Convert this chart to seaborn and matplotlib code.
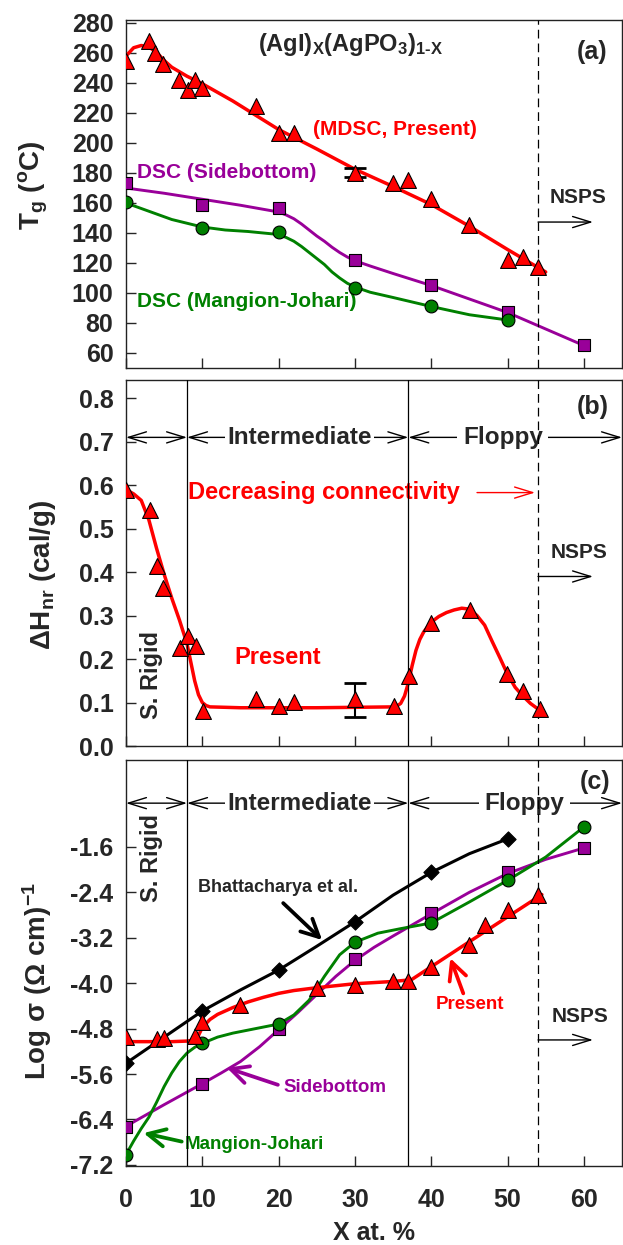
import matplotlib
matplotlib.use("Agg")
import matplotlib.pyplot as plt
import seaborn as sns

# ---------------- panel (a): Tg vs x ----------------
tg_mdsc_x = [0, 3, 3.8, 4.9, 7, 8.1, 9, 9.9, 17, 20, 22, 30, 35, 37, 40, 45, 50, 52, 54]
tg_mdsc_y = [255, 268, 260, 253, 242, 235.5, 242, 237, 225, 207, 207, 180, 173.5, 175, 162.5, 145, 122, 124, 117.5]
tg_mdsc_fit_x = [0, 1, 2, 3, 4, 5, 6, 8, 10, 14, 20, 25, 30, 35, 40, 45, 50, 55]
tg_mdsc_fit_y = [258, 263.5, 265, 264, 260.5, 255, 250.5, 244.5, 239.5, 228, 209, 196, 182.5, 171, 159, 144.5, 129, 114]
tg_err_x, tg_err_y, tg_err = [30], [180], [3]

tg_side_x = [0, 10, 20, 30, 40, 50, 60]
tg_side_y = [173, 158.6, 156.4, 122, 105, 87, 65]
tg_side_fit_x = [0, 5, 10, 15, 20, 21, 22, 23, 24, 25, 26, 27, 28, 29, 30, 32, 35, 40, 45, 50, 55, 60]
tg_side_fit_y = [170, 166.5, 162.5, 158.5, 154, 152, 149.5, 146, 142, 138, 134.5, 130.5, 127, 124, 121.5,
                 118, 113, 105, 96, 87, 76, 65]

tg_mj_x = [0, 10, 20, 30, 40, 50]
tg_mj_y = [160.8, 143.5, 140.4, 103, 91, 81.8]
tg_mj_fit_x = [0, 3, 6, 10, 13, 16, 20, 21, 22, 23, 24, 25, 26, 27, 28, 29, 30, 32, 35, 40, 45, 50]
tg_mj_fit_y = [160, 154.5, 149, 144, 142, 141, 139, 137, 134.5, 131, 127, 123, 119, 114, 110, 106.5, 104,
               100.5, 97, 91, 85.5, 82]

# ---------------- panel (b): non-reversing enthalpy ----------------
dh_x = [0, 3.1, 4, 4.9, 7.1, 8.1, 9.2, 10.1, 17, 20.1, 22, 30, 35.1, 37.1, 40, 45.1, 49.9, 52, 54.2]
dh_y = [0.59, 0.544, 0.414, 0.364, 0.226, 0.253, 0.23, 0.08, 0.107, 0.092, 0.101, 0.107, 0.092, 0.161, 0.284, 0.314, 0.165, 0.126, 0.084]
dh_fit_x = [0, 1, 2, 3, 4, 5, 6, 7, 8, 9, 9.5, 10, 10.5, 11, 15, 20, 25, 30, 35, 35.5, 36, 36.5, 37, 37.5, 38, 38.5, 39,
            40, 41, 42, 43, 44, 45, 46, 47, 48, 49, 50, 51, 52, 53, 54]
dh_fit_y = [0.59, 0.58, 0.565, 0.52, 0.455, 0.395, 0.34, 0.29, 0.235, 0.15, 0.118, 0.1, 0.093, 0.09, 0.088, 0.088, 0.088,
            0.089, 0.09, 0.092, 0.098, 0.115, 0.145, 0.185, 0.22, 0.245, 0.262, 0.285, 0.298, 0.307, 0.313, 0.317,
            0.315, 0.3, 0.278, 0.24, 0.203, 0.165, 0.135, 0.115, 0.098, 0.085]
dh_err_x, dh_err_y, dh_err = [30], [0.106], [0.04]

# ---------------- panel (c): log conductivity ----------------
sg_bh_x = [0, 10, 20, 30, 40, 50]
sg_bh_y = [-5.41, -4.49, -3.77, -2.92, -2.05, -1.46]
sg_bh_fit_x = [0, 5, 10, 15, 20, 25, 30, 35, 40, 45, 50]
sg_bh_fit_y = [-5.41, -4.95, -4.49, -4.12, -3.77, -3.35, -2.92, -2.45, -2.05, -1.72, -1.46]

sg_side_x = [0, 10, 20, 30, 40, 50, 60]
sg_side_y = [-6.54, -5.77, -4.8, -3.58, -2.76, -2.05, -1.62]
sg_side_fit_x = [0, 5, 10, 12.5, 15, 17.5, 20, 22.5, 25, 27.5, 30, 32.5, 35, 40, 45, 50, 55, 60]
sg_side_fit_y = [-6.52, -6.14, -5.77, -5.58, -5.38, -5.12, -4.82, -4.52, -4.2, -3.88, -3.6, -3.37, -3.17, -2.78,
                 -2.4, -2.07, -1.82, -1.62]

sg_mj_x = [0, 10, 20, 30, 40, 50, 60]
sg_mj_y = [-7.02, -5.06, -4.72, -3.28, -2.94, -2.19, -1.25]
sg_mj_fit_x = [0, 1, 2, 3, 4, 5, 6, 7, 8, 9, 10, 12, 14, 17, 20, 22, 24, 26, 28, 30, 33, 36, 40, 45, 50, 55, 60]
sg_mj_fit_y = [-7.02, -6.78, -6.56, -6.36, -6.1, -5.82, -5.58, -5.38, -5.23, -5.13, -5.06, -4.95, -4.88, -4.8, -4.72,
               -4.56, -4.3, -3.88, -3.5, -3.28, -3.12, -3.04, -2.94, -2.57, -2.19, -1.78, -1.25]

sg_pr_x = [0, 4, 5, 9, 10, 15, 25, 30, 35, 37, 40, 45, 47, 50, 54]
sg_pr_y = [-4.95, -4.99, -4.97, -4.93, -4.68, -4.38, -4.09, -4.03, -3.97, -3.97, -3.71, -3.33, -2.97, -2.71, -2.45]
sg_pr_fit_x = [0, 3, 6, 8, 9, 9.5, 10, 11, 12, 14, 16, 18, 20, 22, 25, 30, 35, 37.4, 45, 54.5]
sg_pr_fit_y = [-5.03, -5.03, -5.03, -5.02, -5.0, -4.92, -4.78, -4.64, -4.55, -4.43, -4.33, -4.25, -4.18,
               -4.13, -4.08, -4.01, -3.97, -3.94, -3.27, -2.44]

x_ticks = [0, 10, 20, 30, 40, 50, 60]
tg_ticks = list(range(60, 281, 20))
dh_ticks = [0.0, 0.1, 0.2, 0.3, 0.4, 0.5, 0.6, 0.7, 0.8]
sg_ticks = [-7.2, -6.4, -5.6, -4.8, -4.0, -3.2, -2.4, -1.6]

RED = "#ff0000"
PURPLE = "#990099"
GREEN = "#008000"

sns.set_style("ticks")
plt.rcParams["font.family"] = ["Liberation Sans", "DejaVu Sans"]
plt.rcParams["font.weight"] = "bold"
plt.rcParams["axes.labelweight"] = "bold"
plt.rcParams["mathtext.fontset"] = "custom"
plt.rcParams["mathtext.rm"] = "Liberation Sans:bold"
plt.rcParams["mathtext.bf"] = "Liberation Sans:bold"
plt.rcParams["mathtext.it"] = "Liberation Sans:bold"
plt.rcParams["axes.linewidth"] = 1.0
plt.rcParams["axes.edgecolor"] = "#222222"

fig = plt.figure(figsize=(6.23, 12.45), dpi=100)
L, W = 126 / 623, 496 / 623
ax_a = fig.add_axes([L, 1 - 368 / 1245, W, 348 / 1245])
ax_b = fig.add_axes([L, 1 - 746 / 1245, W, 366 / 1245])
ax_c = fig.add_axes([L, 1 - 1166 / 1245, W, 406 / 1245])


def curve(ax, x, y, color, lw=2.0):
    sns.lineplot(x=x, y=y, ax=ax, color=color, linewidth=lw, estimator=None, sort=False, zorder=4)


def points(ax, x, y, color, marker, s):
    sns.scatterplot(x=x, y=y, ax=ax, color=color, marker=marker, s=s, edgecolor="black",
                    linewidth=0.8, zorder=6)


def arrow(ax, x0, y0, x1, y1, color="black", lw=1.0, style="->,head_length=1.3,head_width=0.4", ms=10):
    ax.annotate("", xy=(x1, y1), xytext=(x0, y0),
                arrowprops=dict(arrowstyle=style, color=color, lw=lw, shrinkA=0, shrinkB=0,
                                mutation_scale=ms), zorder=2)


for ax in (ax_a, ax_b, ax_c):
    ax.set_xlim(0, 65)
    ax.set_xticks(x_ticks)
    ax.tick_params(direction="in", length=7, width=1, labelsize=18, pad=9)
    ax.tick_params(axis="x", pad=16)
    for sp in ax.spines.values():
        sp.set_visible(True)
    ax.axvline(54, color="black", lw=0.9, ls=(0, (7, 4)), zorder=5)
ax_a.tick_params(labelbottom=False)
ax_b.tick_params(labelbottom=False)
for ax in (ax_b, ax_c):
    ax.axvline(8, color="black", lw=0.9, zorder=5)
    ax.axvline(37, color="black", lw=0.9, zorder=5)

# ---- (a)
curve(ax_a, tg_mdsc_fit_x, tg_mdsc_fit_y, RED, 2.5)
curve(ax_a, tg_side_fit_x, tg_side_fit_y, PURPLE, 2.1)
curve(ax_a, tg_mj_fit_x, tg_mj_fit_y, GREEN, 2.1)
ax_a.errorbar(tg_err_x, tg_err_y, yerr=tg_err, fmt="none", ecolor="black", capsize=8, capthick=2, elinewidth=1.5, zorder=5)
points(ax_a, tg_mdsc_x, tg_mdsc_y, RED, "^", 130)
points(ax_a, tg_side_x, tg_side_y, PURPLE, "s", 70)
points(ax_a, tg_mj_x, tg_mj_y, GREEN, "o", 85)
ax_a.set_ylim(50, 282)
ax_a.set_yticks(tg_ticks)
ax_a.text(17.3, 265.5, r"(AgI)$_\mathbf{X}$(AgPO$_\mathbf{3}$)$_\mathbf{1\text{-}X}$", fontsize=17, ha="left", va="center")
ax_a.text(61.1, 261, "(a)", fontsize=18, ha="center", va="center")
ax_a.text(24.5, 208.7, "(MDSC, Present)", fontsize=15, color=RED, ha="left", va="center")
ax_a.text(1.4, 180, "DSC (Sidebottom)", fontsize=15, color=PURPLE, ha="left", va="center")
ax_a.text(1.5, 94, "DSC (Mangion-Johari)", fontsize=15, color=GREEN, ha="left", va="center")
ax_a.text(59.3, 163.5, "NSPS", fontsize=15, ha="center", va="center")
arrow(ax_a, 54, 147.3, 61.2, 147.3)
ax_a.set_ylabel(r"T$_\mathbf{g}$ ($^\mathbf{o}$C)", fontsize=20, fontweight="bold", va="center")
ax_a.yaxis.set_label_coords(-0.187, 0.526)

# ---- (b)
curve(ax_b, dh_fit_x, dh_fit_y, RED, 2.5)
ax_b.errorbar(dh_err_x, dh_err_y, yerr=dh_err, fmt="none", ecolor="black", capsize=8, capthick=2, elinewidth=1.5, zorder=5)
points(ax_b, dh_x, dh_y, RED, "^", 130)
ax_b.set_ylim(0, 0.842)
ax_b.set_yticks(dh_ticks)
ax_b.set_yticklabels([f"{v:.1f}" for v in dh_ticks])
ax_b.text(61.2, 0.781, "(b)", fontsize=18, ha="center", va="center")
ax_b.text(19.9, 0.204, "Present", fontsize=17, color=RED, ha="center", va="center")
ax_b.text(8.1, 0.583, "Decreasing connectivity", fontsize=17, color=RED, ha="left", va="center")
arrow(ax_b, 46, 0.583, 53.6, 0.583, color=RED)
ax_b.text(59.4, 0.445, "NSPS", fontsize=15, ha="center", va="center")
arrow(ax_b, 54, 0.39, 61.2, 0.39)
ax_b.text(3.4, 0.163, "S. Rigid", fontsize=17, rotation=90, ha="center", va="center")
ax_b.set_ylabel(r"ΔH$_\mathbf{nr}$ (cal/g)", fontsize=20, fontweight="bold", va="center")
ax_b.yaxis.set_label_coords(-0.167, 0.467)

# ---- (c)
curve(ax_c, sg_bh_fit_x, sg_bh_fit_y, "black", 2.2)
curve(ax_c, sg_side_fit_x, sg_side_fit_y, PURPLE, 2.1)
curve(ax_c, sg_mj_fit_x, sg_mj_fit_y, GREEN, 2.1)
curve(ax_c, sg_pr_fit_x, sg_pr_fit_y, RED, 2.5)
points(ax_c, sg_bh_x, sg_bh_y, "black", "D", 60)
points(ax_c, sg_side_x, sg_side_y, PURPLE, "s", 70)
points(ax_c, sg_mj_x, sg_mj_y, GREEN, "o", 85)
points(ax_c, sg_pr_x, sg_pr_y, RED, "^", 130)
ax_c.set_ylim(-7.22, -0.07)
ax_c.set_yticks(sg_ticks)
ax_c.set_yticklabels([f"{v:.1f}" for v in sg_ticks])
ax_c.text(61.5, -0.45, "(c)", fontsize=18, ha="center", va="center")
ax_c.text(3.4, -1.79, "S. Rigid", fontsize=17, rotation=90, ha="center", va="center")
ax_c.text(59.5, -4.58, "NSPS", fontsize=15, ha="center", va="center")
arrow(ax_c, 54, -5.0, 61.2, -5.0)
thick = "->,head_length=0.7,head_width=0.35"
ax_c.text(19.9, -2.32, "Bhattacharya et al.", fontsize=13, ha="center", va="center")
arrow(ax_c, 20.6, -2.59, 25.7, -3.24, lw=2.7, style=thick, ms=18)
ax_c.text(20.6, -5.83, "Sidebottom", fontsize=13.5, color=PURPLE, ha="left", va="center")
arrow(ax_c, 19.9, -5.79, 13.2, -5.49, color=PURPLE, lw=2.7, style=thick, ms=18)
ax_c.text(7.7, -6.85, "Mangion-Johari", fontsize=13.5, color=GREEN, ha="left", va="center")
arrow(ax_c, 7.3, -6.79, 2.3, -6.64, color=GREEN, lw=2.7, style=thick, ms=18)
ax_c.text(45.1, -4.38, "Present", fontsize=13.5, color=RED, ha="center", va="center")
arrow(ax_c, 44.2, -4.18, 42.5, -3.56, color=RED, lw=2.7, style=thick, ms=18)
ax_c.set_xlabel("X at. %", fontsize=18, fontweight="bold", labelpad=6)
ax_c.set_ylabel(r"Log σ (Ω cm)$^\mathbf{-1}$", fontsize=20, fontweight="bold", va="center")
ax_c.yaxis.set_label_coords(-0.179, 0.456)

# regime arrows in (b) and (c)
box = dict(facecolor="white", edgecolor="none", pad=1.5)
dbl = "<->,head_length=1.3,head_width=0.4"
for ax, yy in ((ax_b, 0.71), (ax_c, -0.83)):
    arrow(ax, 0, yy, 8, yy, style=dbl)
    arrow(ax, 8, yy, 37, yy, style=dbl)
    arrow(ax, 37, yy, 65, yy, style=dbl)
    ax.text(22.7, yy, "Intermediate", fontsize=17.5, ha="center", va="center", bbox=box, zorder=3)
flo = dict(facecolor="white", edgecolor="none", pad=4)
ax_b.text(49.4, 0.71, "Floppy", fontsize=17.5, ha="center", va="center", bbox=flo, zorder=3)
ax_c.text(52.2, -0.83, "Floppy", fontsize=17.5, ha="center", va="center", bbox=flo, zorder=3)

fig.savefig("out.png", dpi=100)
